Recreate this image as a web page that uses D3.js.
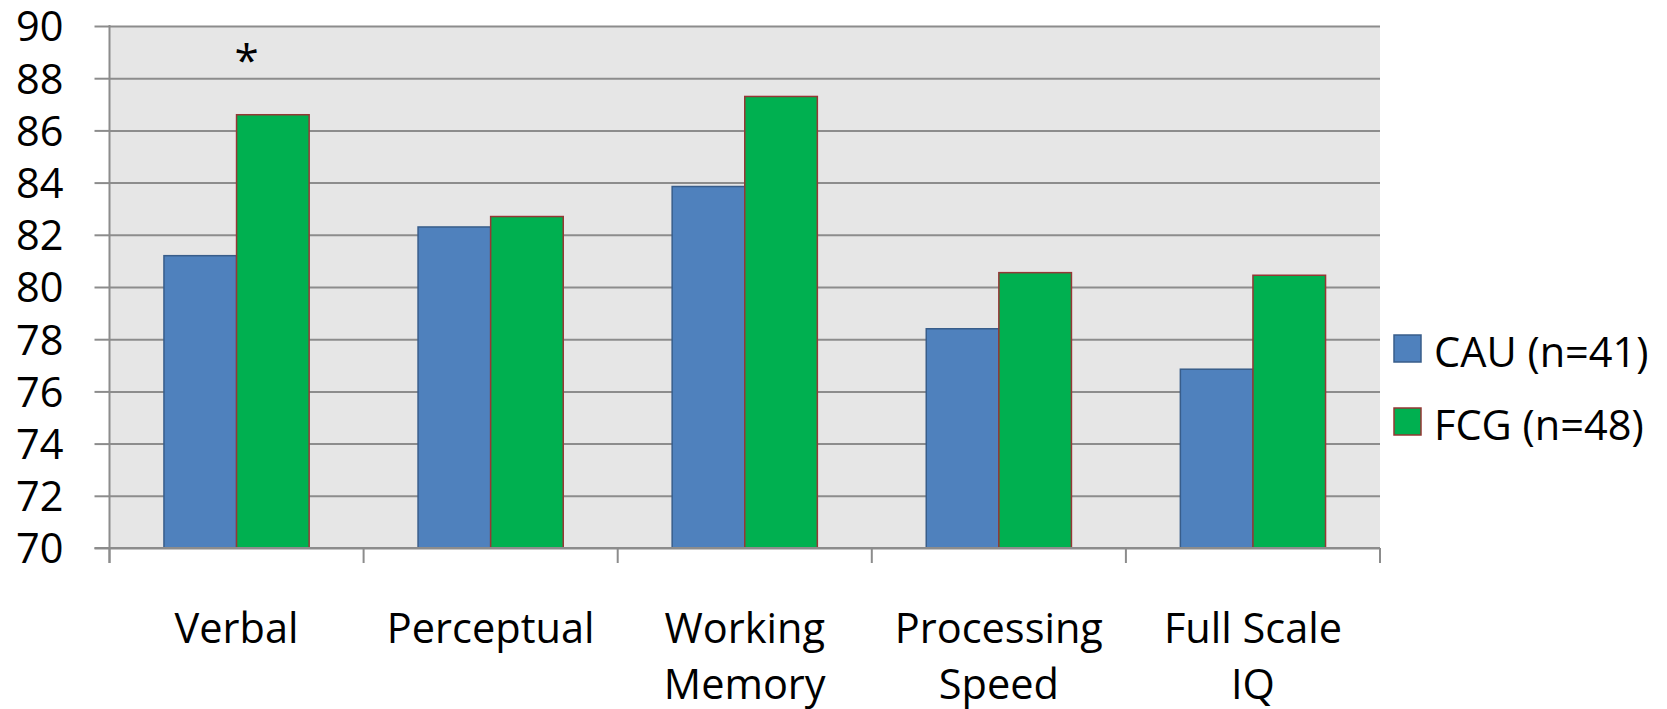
<!DOCTYPE html>
<html>
<head>
<meta charset="utf-8">
<script src="https://cdn.jsdelivr.net/npm/d3@7"></script>
<style>
  html, body { margin: 0; padding: 0; background: #ffffff; }
  svg { display: block; }
  text { font-family: "Open Sans", "Noto Sans", sans-serif; fill: #000; }
</style>
</head>
<body>
<svg id="chart" width="1667" height="709"></svg>
<script>
// Index scores by domain for the two groups
const categories = ["Verbal", "Perceptual", "Working Memory", "Processing Speed", "Full Scale IQ"];
const categoryLines = [["Verbal"], ["Perceptual"], ["Working", "Memory"], ["Processing", "Speed"], ["Full Scale", "IQ"]];
const seriesNames = ["CAU (n=41)", "FCG (n=48)"];
const cauValues = [81.2, 82.3, 83.85, 78.4, 76.85];
const fcgValues = [86.6, 82.7, 87.3, 80.55, 80.45];
const yTicks = [70, 72, 74, 76, 78, 80, 82, 84, 86, 88, 90];
const significant = ["Verbal"];

const seriesColors = ["#4f81bd", "#00b050"];
const seriesStrokes = ["#385d8a", "#953735"];

const svg = d3.select("#chart");
const plot = { left: 109.5, right: 1380, top: 26, bottom: 548 };
const fontSize = 41.5;

const x0 = d3.scaleBand()
  .domain(categories)
  .range([plot.left, plot.right])
  .paddingInner(0.4286)
  .paddingOuter(0.2143);

const x1 = d3.scaleBand()
  .domain(seriesNames)
  .range([0, x0.bandwidth()]);

const y = d3.scaleLinear()
  .domain([70, 90])
  .range([plot.bottom, plot.top]);

// plot background
svg.append("rect")
  .attr("x", plot.left).attr("y", plot.top)
  .attr("width", plot.right - plot.left)
  .attr("height", plot.bottom - plot.top)
  .attr("fill", "#e6e6e6");

// horizontal gridlines
const grid = svg.append("g")
  .attr("transform", `translate(${plot.left},0)`)
  .call(d3.axisRight(y).tickValues(yTicks).tickSize(plot.right - plot.left).tickFormat(""));
grid.select(".domain").remove();
grid.selectAll("line").attr("stroke", "#8c8c8c").attr("stroke-width", 2);

// bars
const rows = categories.map((c, i) => ({ cat: c, vals: [cauValues[i], fcgValues[i]] }));
const groups = svg.append("g").selectAll("g")
  .data(rows).join("g")
  .attr("transform", d => `translate(${x0(d.cat)},0)`);
groups.selectAll("rect")
  .data(d => d.vals.map((v, k) => ({ v, k })))
  .join("rect")
  .attr("x", d => x1(seriesNames[d.k]))
  .attr("y", d => y(d.v))
  .attr("width", x1.bandwidth())
  .attr("height", d => y(70) - y(d.v))
  .attr("fill", d => seriesColors[d.k])
  .attr("stroke", d => seriesStrokes[d.k])
  .attr("stroke-width", 1.5);

// y axis
const yAxis = svg.append("g")
  .attr("transform", `translate(${plot.left},0)`)
  .call(d3.axisLeft(y).tickValues(yTicks).tickSize(15).tickSizeOuter(0).tickPadding(31).tickFormat(d3.format("d")));
yAxis.select(".domain").attr("stroke", "#8c8c8c").attr("stroke-width", 2)
  .attr("d", `M0,${plot.top - 1}V${plot.bottom + 15}`);
yAxis.selectAll(".tick line").attr("stroke", "#8c8c8c").attr("stroke-width", 2);
yAxis.selectAll(".tick text")
  .style("font-family", '"Open Sans", sans-serif')
  .style("font-size", fontSize + "px")
  .attr("fill", "#000")
  .attr("dy", "0.36em");

// x axis with ticks at category boundaries
const boundaries = d3.range(categories.length + 1).map(i => plot.left + i * x0.step());
svg.append("line")
  .attr("x1", plot.left - 15).attr("x2", plot.right)
  .attr("y1", plot.bottom).attr("y2", plot.bottom)
  .attr("stroke", "#8c8c8c").attr("stroke-width", 2);
svg.append("g").selectAll("line")
  .data(boundaries).join("line")
  .attr("x1", d => d).attr("x2", d => d)
  .attr("y1", plot.bottom).attr("y2", plot.bottom + 15)
  .attr("stroke", "#8c8c8c").attr("stroke-width", 2);

// category labels
const catLabels = svg.append("g").selectAll("text")
  .data(categories).join("text")
  .attr("text-anchor", "middle")
  .attr("x", d => x0(d) + x0.bandwidth() / 2)
  .attr("y", 643)
  .style("font-size", fontSize + "px");
catLabels.selectAll("tspan")
  .data((d, i) => categoryLines[i])
  .join("tspan")
  .attr("x", function() { return d3.select(this.parentNode).attr("x"); })
  .attr("dy", (d, j) => j === 0 ? 0 : 56)
  .text(d => d);

// significance marker
svg.append("g").selectAll("text")
  .data(significant).join("text")
  .attr("text-anchor", "middle")
  .attr("x", d => x0(d) + x0.bandwidth() / 2 + 10)
  .attr("y", 76)
  .style("font-size", "44px")
  .text("*");

// legend
const legend = svg.append("g").selectAll("g")
  .data(seriesNames).join("g")
  .attr("transform", (d, i) => `translate(1394,${335 + i * 73})`);
legend.append("rect")
  .attr("width", 27).attr("height", 27)
  .attr("fill", (d, i) => seriesColors[i])
  .attr("stroke", (d, i) => seriesStrokes[i])
  .attr("stroke-width", 1.5);
legend.append("text")
  .attr("x", 40).attr("y", 32)
  .style("font-size", fontSize + "px")
  .text(d => d);
</script>
</body>
</html>
